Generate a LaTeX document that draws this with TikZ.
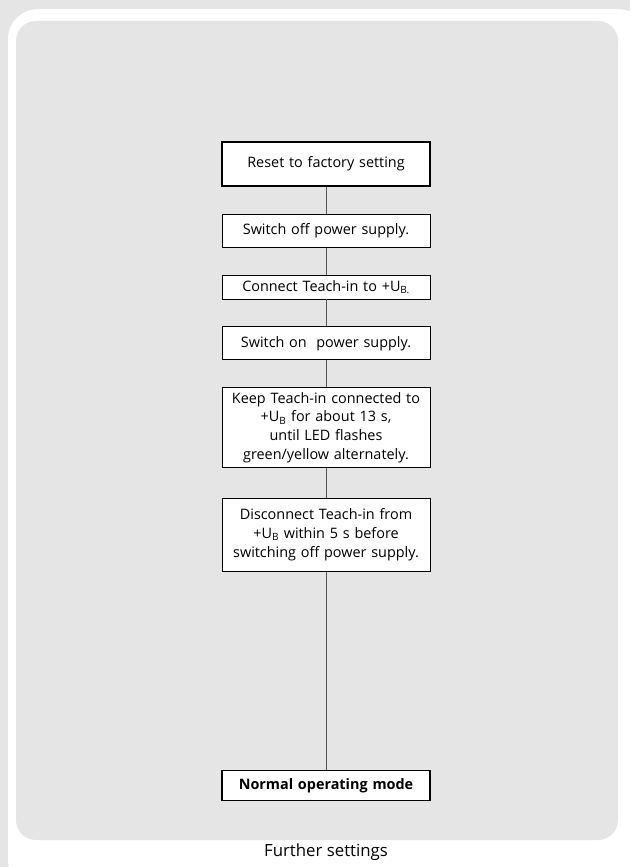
\documentclass[tikz,border=0pt]{standalone}
\usepackage{fontspec}
\setmainfont{Open Sans}
\usetikzlibrary{positioning}
\definecolor{panelgray}{HTML}{E5E5E5}
\definecolor{linkgray}{HTML}{555555}

\begin{document}
\begin{tikzpicture}[x=1pt, y=1pt, node distance=27pt,
    stepbox/.style={draw, fill=white, line width=0.8pt, minimum width=208pt,
      text width=204pt, align=center, inner sep=2pt,
      font=\fontsize{14.4}{18.7}\selectfont},
    endbox/.style={stepbox, line width=1.6pt}]
    % Background
    \useasboundingbox (0,0) rectangle (630,-867);
    \fill[panelgray] (0,0) rectangle (630,-867);
    \fill[white, rounded corners=30pt] (8,-9) rectangle (648,-890);
    \fill[panelgray, rounded corners=20pt] (16,-21) rectangle (618,-840);

    % Nodes
    \node[endbox, minimum height=44pt] (reset) at (326,-164) {Reset to factory setting};
    \node[stepbox, minimum height=33pt, below=of reset] (off) {Switch off power supply.};
    \node[stepbox, minimum height=24pt, below=of off] (connect) {Connect Teach-in to +U\textsubscript{B.}};
    \node[stepbox, minimum height=33pt, below=of connect] (on) {Switch on\ \ power supply.};
    \node[stepbox, minimum height=80pt, below=of on] (keep) {Keep Teach-in connected to\\ +U\textsubscript{B} for about 13 s,\\ until LED flashes\\ green/yellow alternately.};
    \node[stepbox, minimum height=73pt, below=30pt of keep] (disconnect) {Disconnect Teach-in from\\ +U\textsubscript{B} within 5 s before\\ switching off power supply.};
    \node[endbox, minimum height=30pt, below=198pt of disconnect] (normal) {\bfseries Normal operating mode};
    \node[font=\fontsize{16.8}{18}\selectfont] (caption) at (326,-852) {Further settings};

    % Lines
    \draw[linkgray] (reset) -- (off);
    \draw[linkgray] (off) -- (connect);
    \draw[linkgray] (connect) -- (on);
    \draw[linkgray] (on) -- (keep);
    \draw[linkgray] (keep) -- (disconnect);
    \draw[linkgray] (disconnect) -- (normal);
\end{tikzpicture}
\end{document}
